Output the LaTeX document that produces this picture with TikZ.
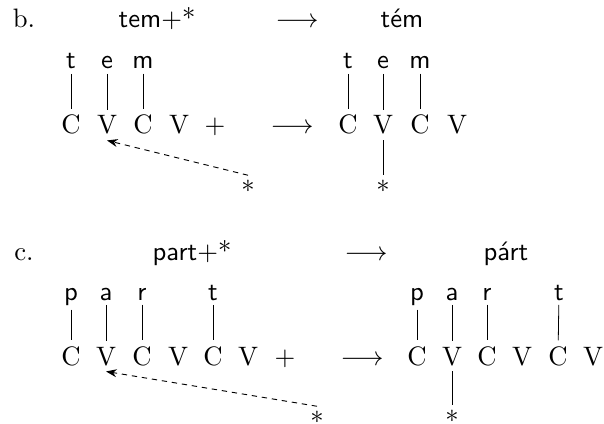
\documentclass[tikz,border=0pt]{standalone}
\usepackage{fontspec}
\usetikzlibrary{arrows.meta}
\begin{document}
\begin{tikzpicture}[x=0.375pt,y=-0.375pt,
  lab/.style={anchor=base,inner sep=0pt},
  seg/.style={anchor=base,inner sep=1.5pt,font=\sffamily},
  cv/.style={anchor=base,inner sep=2pt},
  st/.style={inner sep=1.5pt},
  assoc/.style={line width=0.3pt},
  float/.style={dashed,dash pattern=on 2pt off 1.8pt,line width=0.35pt,-{Stealth[length=4pt,width=3pt]}}]
\useasboundingbox (0,0) rectangle (604,423);
% ---------- b ----------
\node[lab] (lb) at (24,28) {b.};
\node[lab] (hb1) at (157,28) {\textsf{tem}$+$\textrm{*}};
\node[lab] (ab1) at (297,28) {$\longrightarrow$};
\node[lab] (hb2) at (402,28) {\textsf{tém}};
% left
\node[seg] (bt) at (71,69) {t};
\node[seg] (be) at (107,69) {e};
\node[seg] (bm) at (143,69) {m};
\node[cv] (bC1) at (71,134) {C};
\node[cv] (bV1) at (107,134) {V};
\node[cv] (bC2) at (143,134) {C};
\node[cv] (bV2) at (179,134) {V};
\node[cv] (bp) at (215,134) {$+$};
\node[lab] (ab2) at (292,134) {$\longrightarrow$};
\node[st] (bs1) at (248,186) {$*$};
\draw[assoc] (bt) -- (bC1);
\draw[assoc] (be) -- (bV1);
\draw[assoc] (bm) -- (bC2);
\draw[float] (bs1.north) -- (bV1.south);
% right
\node[seg] (rt) at (348,69) {t};
\node[seg] (re) at (383,69) {e};
\node[seg] (rm) at (420,69) {m};
\node[cv] (rC1) at (348,134) {C};
\node[cv] (rV1) at (383,134) {V};
\node[cv] (rC2) at (420,134) {C};
\node[cv] (rV2) at (457,134) {V};
\node[st] (rs1) at (383,186) {$*$};
\draw[assoc] (rt) -- (rC1);
\draw[assoc] (re) -- (rV1);
\draw[assoc] (rm) -- (rC2);
\draw[assoc] (rV1) -- (rs1);
% ---------- c ----------
\node[lab] (lc) at (24,260) {c.};
\node[lab] (hc1) at (192,260) {\textsf{part}$+$\textrm{*}};
\node[lab] (ac1) at (366,260) {$\longrightarrow$};
\node[lab] (hc2) at (506,260) {\textsf{párt}};
% left
\node[seg] (cp) at (71,300) {p};
\node[seg] (ca) at (106,300) {a};
\node[seg] (cr) at (142,300) {r};
\node[seg] (ct) at (213,300) {t};
\node[cv] (cC1) at (71,365) {C};
\node[cv] (cV1) at (106,365) {V};
\node[cv] (cC2) at (142,365) {C};
\node[cv] (cV2) at (178,365) {V};
\node[cv] (cC3) at (213,365) {C};
\node[cv] (cV3) at (248,365) {V};
\node[cv] (cpl) at (285,365) {$+$};
\node[lab] (ac2) at (362,365) {$\longrightarrow$};
\node[st] (cs1) at (317,417) {$*$};
\draw[assoc] (cp) -- (cC1);
\draw[assoc] (ca) -- (cV1);
\draw[assoc] (cr) -- (cC2);
\draw[assoc] (ct) -- (cC3);
\draw[float] (cs1.north) -- (cV1.south);
% right
\node[seg] (dp) at (417,300) {p};
\node[seg] (da) at (452,300) {a};
\node[seg] (dr) at (487,300) {r};
\node[seg] (dt) at (559,300) {t};
\node[cv] (dC1) at (417,365) {C};
\node[cv] (dV1) at (452,365) {V};
\node[cv] (dC2) at (487,365) {C};
\node[cv] (dV2) at (522,365) {V};
\node[cv] (dC3) at (558,365) {C};
\node[cv] (dV3) at (593,365) {V};
\node[st] (ds1) at (452,416) {$*$};
\draw[assoc] (dp) -- (dC1);
\draw[assoc] (da) -- (dV1);
\draw[assoc] (dr) -- (dC2);
\draw[assoc] (dt) -- (dC3);
\draw[assoc] (dV1) -- (ds1);
\end{tikzpicture}
\end{document}
